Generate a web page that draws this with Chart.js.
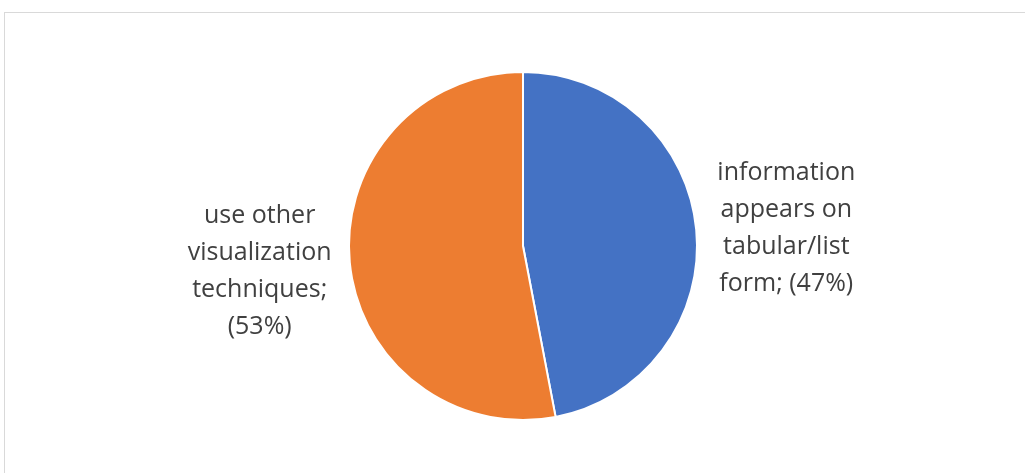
<!DOCTYPE html>
<html>
<head>
<meta charset="utf-8">
<script src="https://cdn.jsdelivr.net/npm/chart.js@4"></script>
<style>
  body { margin: 0; background: #fff; }
  #frame { position: absolute; left: 4px; top: 12px; width: 1040px; height: 480px; border: 1px solid #d9d9d9; }
  #wrap { position: absolute; left: 0; top: 0; width: 1025px; height: 473px; }
</style>
</head>
<body>
<div id="frame"></div>
<div id="wrap"><canvas id="chart"></canvas></div>
<script>
const labels = ['information appears on tabular/list form', 'use other visualization techniques'];
const values = [47, 53];
const labelLines = [
    ['information', 'appears on', 'tabular/list', 'form; (47%)'],
    ['use other', 'visualization', 'techniques;', '(53%)']
];
const colors = ['#4472C4', '#ED7D31'];

// draws the data labels outside each slice, like Excel does
const outsideLabels = {
    id: 'outsideLabels',
    afterDatasetsDraw(chart) {
        const ctx = chart.ctx;
        const meta = chart.getDatasetMeta(0);
        const nudgeY = [7, 0];
        ctx.save();
        ctx.font = '25px "Open Sans"';
        ctx.fillStyle = '#404040';
        ctx.textAlign = 'center';
        ctx.textBaseline = 'middle';
        const lineH = 37;
        meta.data.forEach((arc, i) => {
            const mid = (arc.startAngle + arc.endAngle) / 2;
            const r = arc.outerRadius * 1.52;
            const x = arc.x + Math.cos(mid) * r;
            const y = arc.y + Math.sin(mid) * r + nudgeY[i];
            const lines = labelLines[i];
            const top = y - (lines.length - 1) * lineH / 2;
            lines.forEach((t, k) => ctx.fillText(t, x, top + k * lineH));
        });
        ctx.restore();
    }
};

new Chart(document.getElementById('chart'), {
    type: 'pie',
    data: {
        labels: labels,
        datasets: [{
            data: values,
            backgroundColor: colors,
            borderColor: '#ffffff',
            borderWidth: 2
        }]
    },
    options: {
        responsive: true,
        maintainAspectRatio: false,
        animation: false,
        layout: { padding: { top: 71, bottom: 52, left: 200, right: 179 } },
        plugins: {
            legend: { display: false },
            tooltip: { enabled: false }
        }
    },
    plugins: [outsideLabels]
});
</script>
</body>
</html>
